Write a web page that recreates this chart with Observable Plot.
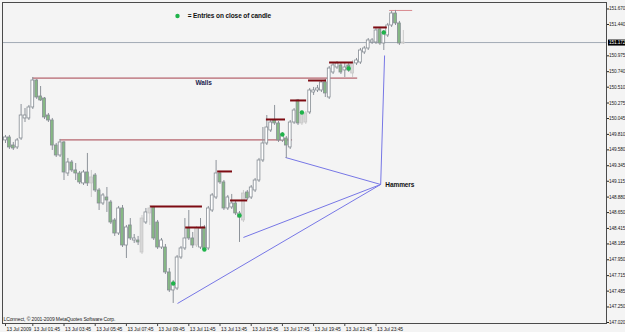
<!DOCTYPE html>
<html><head><meta charset="utf-8">
<script src="https://cdn.jsdelivr.net/npm/d3@7"></script>
<script src="https://cdn.jsdelivr.net/npm/@observablehq/plot@0.6"></script>
<style>
html,body{margin:0;padding:0;background:#f4f4f4;}
#chart svg{display:block;}
</style></head><body><div id="chart"></div>
<script>
// 15-minute candles, 13 Jul 2009 00:00 onward (bar index = position)
const opens = [149.720,149.764,149.645,149.616,149.749,150.046,150.046,150.209,150.609,150.372,150.342,150.090,150.016,149.645,149.497,149.690,149.230,149.393,149.275,149.230,149.082,149.245,149.082,149.200,148.978,148.785,148.874,148.800,148.533,148.340,148.711,148.162,148.459,148.236,148.236,148.058,148.503,148.637,148.726,148.503,148.132,148.132,147.762,147.495,147.524,147.984,148.118,148.414,148.266,148.162,148.132,148.429,148.118,148.681,148.874,149.230,149.097,148.711,148.726,148.785,148.577,148.533,148.948,148.874,148.978,149.126,149.423,149.675,149.868,150.016,149.972,149.720,149.749,149.616,149.986,150.313,149.972,149.986,150.135,150.431,150.461,150.461,150.580,150.357,150.728,150.802,150.832,150.758,150.832,150.713,150.862,150.876,151.025,151.084,151.173,151.173,151.366,151.158,151.277,151.425,151.603,151.455,151.158];
const highs = [149.794,149.794,149.690,149.749,150.253,150.194,150.239,150.654,150.624,150.520,150.357,150.120,150.046,149.675,149.735,149.705,149.453,149.423,149.378,149.260,149.275,149.527,149.275,149.230,149.008,148.933,149.022,148.830,148.562,148.741,148.755,148.459,148.562,148.325,148.296,148.607,148.711,148.755,148.741,148.533,148.266,148.177,147.821,147.643,148.014,148.147,148.562,148.681,148.355,148.444,148.562,148.459,148.741,148.933,149.423,149.260,149.126,148.904,148.919,148.815,148.666,148.978,148.978,149.052,149.156,149.453,149.912,150.090,150.016,150.239,150.001,149.838,149.779,150.016,150.194,150.328,150.164,150.150,150.491,150.506,150.535,150.609,150.624,150.817,150.862,150.891,150.862,150.876,150.862,150.906,150.936,151.084,151.114,151.232,151.232,151.381,151.396,151.351,151.455,151.633,151.648,151.485,151.351];
const lows = [149.675,149.586,149.571,149.586,149.720,149.986,150.016,150.179,150.328,150.298,150.031,149.986,149.571,149.467,149.467,149.126,149.186,149.245,149.126,149.067,149.052,149.037,148.874,148.948,148.681,148.755,148.652,148.474,148.296,148.310,148.132,147.969,148.236,148.192,148.162,148.029,148.474,148.459,148.236,148.103,148.103,147.732,147.465,147.302,147.495,147.955,148.088,148.236,148.118,148.132,148.103,148.088,148.088,148.652,148.844,149.067,148.681,148.681,148.696,148.607,148.207,148.503,148.830,148.844,148.948,149.097,149.393,149.645,149.838,149.942,149.690,149.690,149.453,149.586,149.957,149.942,149.942,149.957,150.105,150.387,150.431,150.431,150.357,150.328,150.698,150.773,150.698,150.654,150.728,150.654,150.832,150.847,150.995,151.054,151.143,151.143,151.129,151.054,151.247,151.396,151.425,151.129,151.143];
const closes = [149.764,149.616,149.601,149.720,150.090,150.090,150.209,150.609,150.357,150.313,150.061,150.016,149.645,149.497,149.690,149.245,149.393,149.275,149.230,149.097,149.245,149.082,149.171,148.978,148.785,148.904,148.830,148.503,148.340,148.711,148.162,148.429,148.266,148.266,148.207,148.562,148.652,148.711,148.266,148.132,148.236,147.762,147.495,147.599,147.984,148.118,148.266,148.266,148.162,148.414,148.414,148.103,148.711,148.904,149.230,149.097,148.711,148.874,148.785,148.637,148.637,148.933,148.859,149.022,149.126,149.423,149.675,149.912,149.986,149.972,149.720,149.809,149.645,149.986,150.164,149.972,150.135,150.120,150.461,150.461,150.491,150.580,150.417,150.787,150.832,150.862,150.728,150.802,150.758,150.876,150.906,151.054,151.084,151.203,151.203,151.351,151.158,151.321,151.425,151.603,151.455,151.158,151.172];
const paleBars = [22,35,37,49,61,76,77,89,102];

// entries on close of candle
const entryBars = [43,51,60,71,76,88,97];
const entryPrices = [147.599,148.103,148.607,149.809,150.135,150.787,151.321];

// walls (long horizontal lines)
const wallStart = [7,14,98.5];
const wallEnd = [90.3,73.6,104.4];
const wallPrice = [150.645,149.728,151.648];

// short resistance lines
const topStart = [37.2,46.2,54.4,57.7,66.9,73.1,77.7,83.1,94.4];
const topEnd = [50.5,51.3,58.2,62.1,71.8,77.2,82.3,89.2,97.9];
const topPrice = [148.741,148.429,149.260,148.830,150.031,150.313,150.609,150.876,151.396];

// hammer pointer lines
const hammerTipBar = 96.2, hammerTipPrice = 149.067;
const hammerBars = [44.1,61,71.8,97.2];
const hammerPrices = [147.302,148.281,149.467,150.980];

// annotations
const noteText = ["Walls","Hammers","= Entries on close of candle"];
const noteBar = [48.7,97.4,46.7];
const notePrice = [150.580,149.067,151.566];
const legendDotBar = 44.1, legendDotPrice = 151.566;

const priceTicks = [147.020,147.250,147.485,147.715,147.950,148.185,148.415,148.650,148.880,149.115,149.345,149.580,149.810,150.045,150.275,150.510,150.740,150.975,151.440,151.670];
const timeTickBars = [0,7,15,23,31,39,47,55,63,71,79,87,95];
const timeTickLabels = ["13 Jul 2009","13 Jul 01:45","13 Jul 03:45","13 Jul 05:45","13 Jul 07:45","13 Jul 09:45","13 Jul 11:45","13 Jul 13:45","13 Jul 15:45","13 Jul 17:45","13 Jul 19:45","13 Jul 21:45","13 Jul 23:45"];
const lastPrice = 151.172;
const copyright = "LConnect, © 2001-2009 MetaQuotes Software Corp.";

const yMin = 147.005, yMax = 151.766;

const candles = opens.map((o, i) => ({i, o, h: highs[i], l: lows[i], c: closes[i], pale: paleBars.includes(i)}));
const entries = entryBars.map((b, k) => ({b, p: entryPrices[k]}));
const walls = wallPrice.map((p, k) => ({s: wallStart[k], e: wallEnd[k], p, k}));
const tops = topPrice.map((p, k) => ({s: topStart[k], e: topEnd[k], p}));
const hammers = hammerBars.map((b, k) => ({b, p: hammerPrices[k]}));
const notes = noteText.map((t, k) => ({t, b: noteBar[k], p: notePrice[k]}));

const chart = Plot.plot({
  width: 625, height: 332,
  marginLeft: 2, marginRight: 19, marginTop: 2, marginBottom: 9,
  style: {background: "#f4f4f4", fontFamily: "'Liberation Sans', Arial, sans-serif", fontSize: "4.7px", color: "#222", letterSpacing: "-0.1px"},
  x: {domain: [-0.77, 154.1], axis: null},
  y: {domain: [yMin, yMax], axis: "right", ticks: priceTicks, tickFormat: d => d.toFixed(3), tickSize: 2, tickPadding: 0.5, label: null},
  marks: [
    Plot.ruleY([lastPrice], {y: d => d, stroke: "#a2abb5", strokeWidth: 1}),
    Plot.ruleY(walls, {y: "p", x1: "s", x2: "e", stroke: d => d.k === 2 ? "#d98a90" : "#a6414d", strokeWidth: 1}),
    Plot.link(hammers, {x1: "b", y1: "p", x2: () => hammerTipBar, y2: () => hammerTipPrice, stroke: "#7777e6", strokeWidth: 1}),
    Plot.ruleX(candles, {x: "i", y1: "l", y2: "h", stroke: d => d.pale ? "#cacaca" : "#8d939a", strokeWidth: 1}),
    Plot.rect(candles, {
      x1: d => d.i - 0.36, x2: d => d.i + 0.36,
      y1: d => Math.min(d.o, d.c) - (Math.abs(d.o - d.c) < 0.01 ? 0.006 : 0),
      y2: d => Math.max(d.o, d.c) + (Math.abs(d.o - d.c) < 0.01 ? 0.006 : 0),
      fill: d => d.pale ? "#d7d7d7" : (d.c >= d.o ? "#ffffff" : "#86b884"),
      stroke: d => d.pale ? "#c6c6c6" : "#858c93", strokeWidth: 0.8
    }),
    Plot.ruleY(tops, {y: "p", x1: "s", x2: "e", stroke: "#7d0b12", strokeWidth: 2}),
    Plot.dot(entries, {x: "b", y: "p", r: 2.2, fill: "#1fb34a"}),
    Plot.dot([{b: legendDotBar, p: legendDotPrice}], {x: "b", y: "p", r: 2.2, fill: "#1fb34a"}),
    Plot.text(notes, {x: "b", y: "p", text: "t", textAnchor: "start", fontWeight: "bold", fontSize: 6.5, fill: d => d.t === "Walls" ? "#1c2450" : "#111"}),
    Plot.ruleX(timeTickBars, {x: d => d, y1: yMin, y2: yMin - 0.045, stroke: "#444"}),
    Plot.text(timeTickBars, {x: d => d, y: yMin, text: (d, i) => timeTickLabels[i], textAnchor: "start", dx: 1, dy: 5.5, fontSize: 5, fill: "#222"}),
    Plot.text([copyright], {frameAnchor: "bottom-left", text: d => d, dx: 1, dy: -3, textAnchor: "start", fontSize: 5, fill: "#222"}),
    Plot.frame({stroke: "#4b4b4b"}),
    Plot.text([lastPrice], {y: d => d, frameAnchor: "right", dx: 2.5, textAnchor: "start", text: d => d.toFixed(3), fill: "#ffffff", fontSize: 4.7})
  ]
});
document.getElementById("chart").append(chart);

// black box behind the current-price label
const svgRect = chart.getBoundingClientRect();
chart.querySelectorAll("text").forEach(t => {
  if (t.textContent === lastPrice.toFixed(3)) {
    const r = t.getBoundingClientRect();
    const rect = document.createElementNS("http://www.w3.org/2000/svg", "rect");
    rect.setAttribute("x", r.left - svgRect.left - 1);
    rect.setAttribute("y", r.top - svgRect.top - 0.5);
    rect.setAttribute("width", r.width + 4);
    rect.setAttribute("height", r.height + 1);
    rect.setAttribute("fill", "#000");
    let g = t;
    while (g.parentNode && g.parentNode !== chart) g = g.parentNode;
    chart.insertBefore(rect, g);
  }
});
</script></body></html>
